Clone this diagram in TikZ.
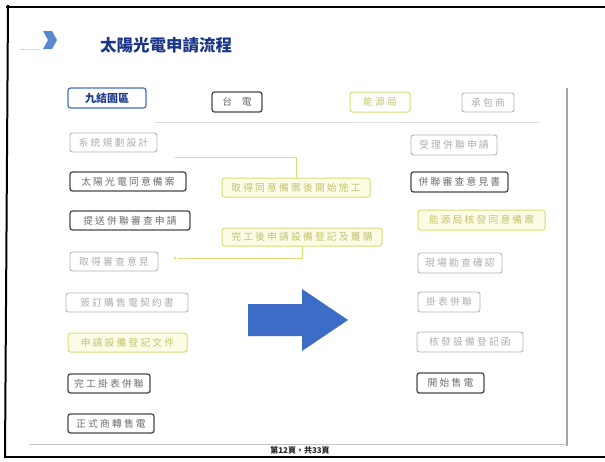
\documentclass[tikz,border=0pt]{standalone}
\usepackage{fontspec}
\setmainfont{Noto Sans CJK TC}
\newfontfamily\boxfont[LetterSpace=22]{Noto Sans CJK TC}
\definecolor{darkbd}{HTML}{4A4A4A}
\definecolor{darktx}{HTML}{6E6E6E}
\definecolor{graybd}{HTML}{B4B4B4}
\definecolor{graytx}{HTML}{AEAEAE}
\definecolor{yelbd}{HTML}{DCDC78}
\definecolor{yelfill}{HTML}{FBFBE6}
\definecolor{yeltx}{HTML}{C4C470}
\definecolor{bluebd}{HTML}{3F6FC4}
\definecolor{bluetx}{HTML}{1E3C8C}
\definecolor{arrowblue}{HTML}{3C6CC6}
\definecolor{chevblue}{HTML}{5A88CE}
\definecolor{titleblue}{HTML}{1B358A}
\begin{document}
\begin{tikzpicture}[x=1pt,y=-1pt,
  every node/.style={inner sep=0pt, outer sep=0pt},
  basebox/.style={rounded corners=2.5pt, anchor=north west, minimum height=19pt, font=\boxfont\fontsize{9.8}{10}\selectfont, align=center},
  darkbox/.style={basebox, draw=darkbd, line width=1.3pt, text=darktx},
  graybox/.style={basebox, draw=graybd, line width=0.9pt, text=graytx},
  yelbox/.style={basebox, draw=yelbd, fill=yelfill, line width=1pt, text=yeltx},
  bluebox/.style={basebox, draw=bluebd, line width=1.2pt, text=bluetx, font=\fontsize{11}{11}\selectfont\bfseries},
  yline/.style={draw=yelbd, line width=1pt},
]
\useasboundingbox (0,0) rectangle (605,461);
\fill[white] (0,0) rectangle (605,461);
% slide frame
\draw[black, line width=2pt] (6,7) -- (605,7);
\draw[black, line width=2pt] (8,5) -- (5,458);
\draw[black, line width=2.2pt] (5,457) -- (605,457);
\draw[gray!70, line width=1.3pt] (567,88) -- (567,446);
\draw[gray!45, line width=1pt] (30,444) -- (567,444);
\draw[gray!25, line width=0.8pt] (155,122) -- (540,122);
\draw[gray!30, line width=0.8pt] (20,49) -- (40,49);
% header
\fill[chevblue] (43,31) -- (52,31) -- (57,40) -- (52,49) -- (43,49) -- (48,40) -- cycle;
\node[anchor=west, text=titleblue, font=\fontsize{16.5}{16.5}\selectfont\bfseries] (title) at (100,45) {太陽光電申請流程};
% legend row
\node[bluebox, minimum width=78pt, minimum height=20pt] (legA) at (68,88) {九結園區};
\node[darkbox, minimum width=50pt, minimum height=20pt] (legB) at (212,92) {台\quad 電};
\node[yelbox, fill=white, minimum width=60pt, minimum height=20pt] (legC) at (350,92) {能源局};
\node[graybox, minimum width=52pt, minimum height=19pt] (legD) at (462,93) {承包商};
% left column
\node[graybox, minimum width=87pt] (L1) at (70,133) {系統規劃設計};
\node[darkbox, minimum width=116pt] (L2) at (70,172) {太陽光電同意備案};
\node[darkbox, minimum width=120pt] (L3) at (70,211) {提送併聯審查申請};
\node[graybox, minimum width=88pt] (L4) at (70,252) {取得審查意見};
\node[graybox, minimum width=122pt] (L5) at (66,293) {簽訂購售電契約書};
\node[yelbox, minimum width=119pt] (L6) at (68,333) {申請設備登記文件};
\node[darkbox, minimum width=82pt] (L7) at (68,374) {完工掛表併聯};
\node[darkbox, minimum width=86pt] (L8) at (68,414) {正式商轉售電};
% middle
\node[yelbox, minimum width=148pt] (MA) at (222,178) {取得同意備案後開始施工};
\node[yelbox, minimum width=160pt, minimum height=18pt] (MB) at (222,228) {完工後申請設備登記及躉購};
% right column
\node[graybox, minimum width=86pt, minimum height=20pt] (R1) at (411,135) {受理併聯申請};
\node[darkbox, minimum width=97pt, minimum height=20pt] (R2) at (411,172) {併聯審查意見書};
\node[yelbox, minimum width=127pt, minimum height=20pt] (R3) at (418,210) {能源局核發同意備案};
\node[graybox, minimum width=84pt, minimum height=20pt] (R4) at (418,253) {現場勘查確認};
\node[graybox, minimum width=62pt, minimum height=20pt] (R5) at (418,292) {掛表併聯};
\node[graybox, minimum width=106pt, minimum height=20pt] (R6) at (417,332) {核發設備登記函};
\node[darkbox, minimum width=67pt, minimum height=20pt] (R7) at (417,373) {開始售電};
% yellow connectors
\coordinate (y1s) at (175,157);
\coordinate (y2e) at (178,258);
\draw[yline] (y1s) -| (MA.north);
\draw[yline] (MB.south) |- (y2e);
\fill[yelbd] (y2e) ++(-3,0) circle (1.5pt);
% big arrow
\fill[arrowblue] (248,304) -- (302,304) -- (302,289) -- (348,320) -- (302,351) -- (302,336) -- (248,336) -- cycle;
% page number
\node[font=\fontsize{8}{8}\selectfont\bfseries, text=black!85] (page) at (300,450) {第12頁，共33頁};
\end{tikzpicture}
\end{document}
